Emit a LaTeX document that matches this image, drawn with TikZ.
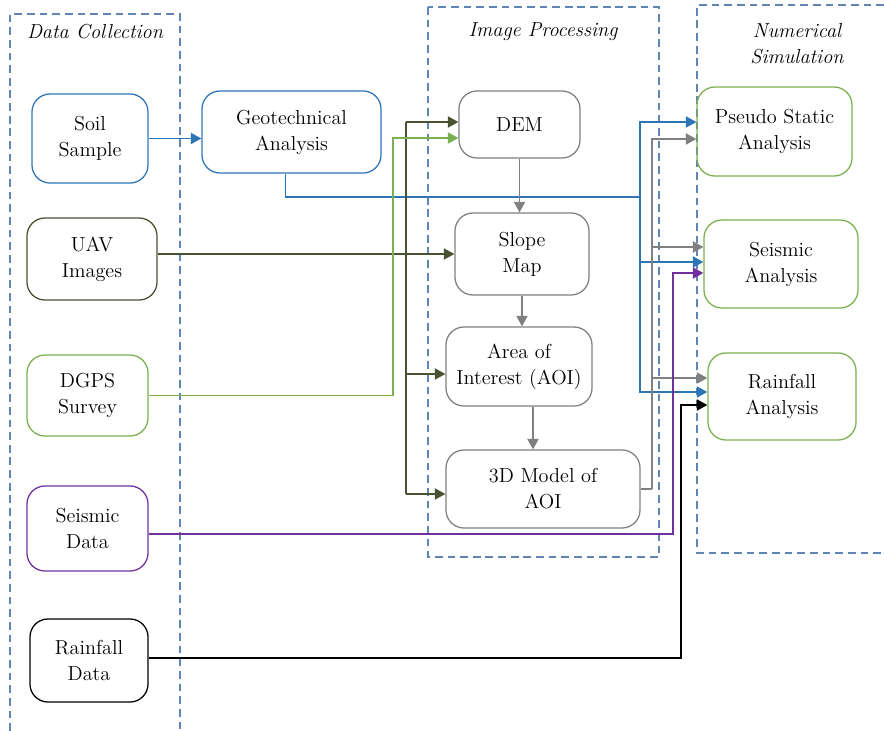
\documentclass[tikz,border=0pt]{standalone}
\usepackage{tikz}
\usetikzlibrary{arrows.meta, positioning, calc}

\definecolor{frameblue}{RGB}{98,134,180}
\definecolor{linkblue}{RGB}{46,117,182}
\definecolor{linkgreen}{RGB}{122,176,80}
\definecolor{linkpurple}{RGB}{112,48,160}
\definecolor{linkolive}{RGB}{72,82,50}
\definecolor{linkgray}{RGB}{128,128,128}

\begin{document}
\begin{tikzpicture}[x=0.025cm, y=-0.025cm,
    font=\fontsize{14.4}{18.5}\selectfont,
    block/.style={draw, rounded corners=0.45cm, align=center, inner sep=0pt, line width=0.9pt},
    frame/.style={draw=frameblue, dash pattern=on 5.5pt off 3.5pt, line width=0.8pt},
    link/.style={line width=1pt},
    arr/.style={-{Triangle[length=7.5pt,width=8pt]}},
    title/.style={font=\fontsize{14.4}{18.5}\selectfont\itshape, align=center}]
    \useasboundingbox (0,0) rectangle (884,731);

    % Dashed frames of the three stages
    \draw[frame] (10,731) -- (10,14) -- (180,14) -- (180,731);
    \draw[frame] (428,7) rectangle (659,557);
    \draw[frame] (884,5) -- (697,5) -- (697,553) -- (884,553);
    \node[title] (dctitle) at (95,32) {Data Collection};
    \node[title] (iptitle) at (543,32) {Image Processing};
    \node[title] (nstitle) at (797,44) {Numerical\\Simulation};

    % Data collection
    \node[block, draw=linkblue, minimum width=2.9cm, minimum height=2.225cm] (soil) at (90,138.5) {Soil\\Sample};
    \node[block, draw=linkblue, minimum width=4.475cm, minimum height=2.05cm] (geo) at (291.5,132) {Geotechnical\\Analysis};
    \node[block, draw=linkolive, minimum width=3.25cm, minimum height=2.05cm] (uav) at (92,259) {UAV\\Images};
    \node[block, draw=linkgreen, minimum width=3.025cm, minimum height=2.025cm] (dgps) at (87.5,395.5) {DGPS\\Survey};
    \node[block, draw=linkpurple, minimum width=3.025cm, minimum height=2.125cm] (sdata) at (87.5,528.5) {Seismic\\Data};
    \node[block, draw=black, minimum width=2.95cm, minimum height=2.075cm] (rdata) at (89,660.5) {Rainfall\\Data};

    % Image processing
    \node[block, draw=linkgray, minimum width=3.025cm, minimum height=1.675cm] (dem) at (519.5,124.5) {DEM};
    \node[block, draw=linkgray, minimum width=3.35cm, minimum height=2.05cm] (slope) at (522,254) {Slope\\Map};
    \node[block, draw=linkgray, minimum width=3.65cm, minimum height=1.975cm] (aoi) at (519,366.5) {Area of\\Interest (AOI)};
    \node[block, draw=linkgray, minimum width=4.85cm, minimum height=1.95cm] (model) at (543,489) {3D Model of\\AOI};

    % Numerical simulation
    \node[block, draw=linkgreen, minimum width=3.875cm, minimum height=2.225cm] (pseudo) at (774.5,131.5) {Pseudo Static\\Analysis};
    \node[block, draw=linkgreen, minimum width=3.85cm, minimum height=2.2cm] (seis) at (781,264) {Seismic\\Analysis};
    \node[block, draw=linkgreen, minimum width=3.7cm, minimum height=2.175cm] (rain) at (782,396.5) {Rainfall\\Analysis};

    % Turning points of the connectors
    \coordinate (bsplit) at (640,197);
    \coordinate (gsplit) at (652,489);
    \coordinate (pturn) at (673,273);
    \coordinate (kturn) at (681,405);
    \coordinate (gturn) at (393,138);
    \coordinate (otop) at (406,122);
    \coordinate (obot) at (406,494);

    % Soil sample and geotechnical analysis
    \draw[link, linkblue, arr] (soil.east) -- (soil.east -| geo.west);
    \draw[link, linkblue] ($(geo.south)+(-6,0)$) |- (bsplit);
    \draw[link, linkblue, arr] (bsplit) |- (pseudo.west |- 0,122);
    \draw[link, linkblue, arr] (bsplit) |- (seis.west |- 0,262);
    \draw[link, linkblue, arr] (bsplit) |- (rain.west |- 0,392);

    % 3D model to the simulations
    \draw[link, linkgray] (model.east) -- (gsplit);
    \draw[link, linkgray, arr] (gsplit) |- (pseudo.west |- 0,139);
    \draw[link, linkgray, arr] (gsplit) |- (seis.west |- 0,247);
    \draw[link, linkgray, arr] (gsplit) |- (rain.west |- 0,378);

    % Seismic and rainfall data
    \draw[link, linkpurple, arr] (sdata.east |- 0,534) -| (pturn) -- (pturn -| seis.west);
    \draw[link, black, arr] (rdata.east |- 0,658) -| (kturn) -- (kturn -| rain.west);

    % UAV images and DGPS survey
    \draw[link, linkolive, arr] (uav.east |- slope.west) -- (slope.west);
    \draw[link, linkolive] (otop) -- (obot);
    \draw[link, linkolive, arr] (otop) -- (otop -| dem.west);
    \draw[link, linkolive, arr] (otop |- 0,374) -- (aoi.west |- 0,374);
    \draw[link, linkolive, arr] (obot) -- (obot -| model.west);
    \draw[link, linkgreen, arr] (dgps.east) -| (gturn) -- (gturn -| dem.west);

    % Steps of the image processing
    \path[link, linkgray, arr]
    (dem.south) edge (dem.south |- slope.north)
    (slope.south) edge (slope.south |- aoi.north)
    (533,0 |- aoi.south) edge (533,0 |- model.north);
\end{tikzpicture}
\end{document}
